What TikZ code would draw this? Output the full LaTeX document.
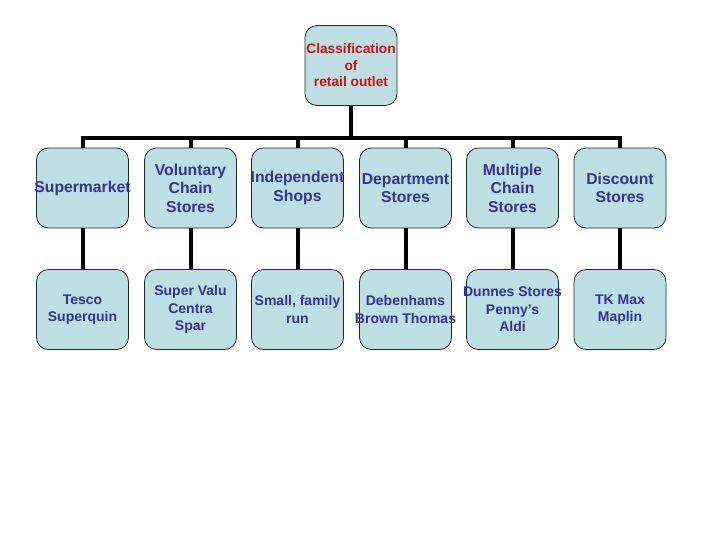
\documentclass[tikz,border=0pt]{standalone}
\usepackage{fontspec}
\setmainfont{Liberation Sans}
\definecolor{boxfill}{RGB}{190,224,228}
\definecolor{textblue}{RGB}{51,51,145}
\definecolor{textred}{RGB}{208,16,16}
\tikzset{
	kasten/.style={rectangle,rounded corners=9pt,draw=black!85,line width=0.6pt,fill=boxfill,
		minimum width=69pt,minimum height=60pt,inner xsep=-6pt,inner ysep=0pt,align=center},
	oben/.style={kasten,text=textred,font=\fontsize{10.3}{12.4}\selectfont\bfseries},
	ebene/.style={kasten,text=textblue,font=\fontsize{11.8}{13.9}\selectfont\bfseries},
	blatt/.style={kasten,text=textblue,font=\fontsize{10.5}{13.1}\selectfont\bfseries},
	linie/.style={line width=3pt,black}
}
\def\kante#1#2{
	\draw[linie] (#1.south) -- (#2.north);
}
\def\ast#1{
	\draw[linie] (#1.north) -- (#1.north |- bus);
}

\begin{document}
\begin{tikzpicture}[x=0.75pt,y=-0.75pt]
\useasboundingbox[fill=white] (0,0) rectangle (720,540);
\coordinate (bus) at (351,138);
% boxes
\node[oben] (klass) at (351,65.5) {Classification\\of\\retail outlet};
\node[ebene] (super) at (82.5,188) {Supermarket};
\node[ebene] (volunt) at (190.5,188) {Voluntary\\Chain\\Stores};
\node[ebene] (indep) at (297.5,188) {Independent\\Shops};
\node[ebene] (depart) at (405.5,188) {Department\\Stores};
\node[ebene] (multi) at (512.5,188) {Multiple\\Chain\\Stores};
\node[ebene] (disc) at (620,188) {Discount\\Stores};
\node[blatt] (tesco) at (82.5,309.5) {Tesco\\Superquin};
\node[blatt] (valu) at (190.5,309.5) {Super Valu\\Centra\\Spar};
\node[blatt] (small) at (297.5,309.5) {Small, family\\run};
\node[blatt] (deben) at (405.5,309.5) {Debenhams\\Brown Thomas};
\node[blatt] (dunnes) at (512.5,309.5) {Dunnes Stores\\Penny's\\Aldi};
\node[blatt] (tkmax) at (620,309.5) {TK Max\\Maplin};
% tree
\draw[linie] (klass.south) -- (bus);
\draw[linie] (super.north) |- (bus) -| (disc.north);
\ast{volunt}
\ast{indep}
\ast{depart}
\ast{multi}
\kante{super}{tesco}
\kante{volunt}{valu}
\kante{indep}{small}
\kante{depart}{deben}
\kante{multi}{dunnes}
\kante{disc}{tkmax}
\end{tikzpicture}
\end{document}
